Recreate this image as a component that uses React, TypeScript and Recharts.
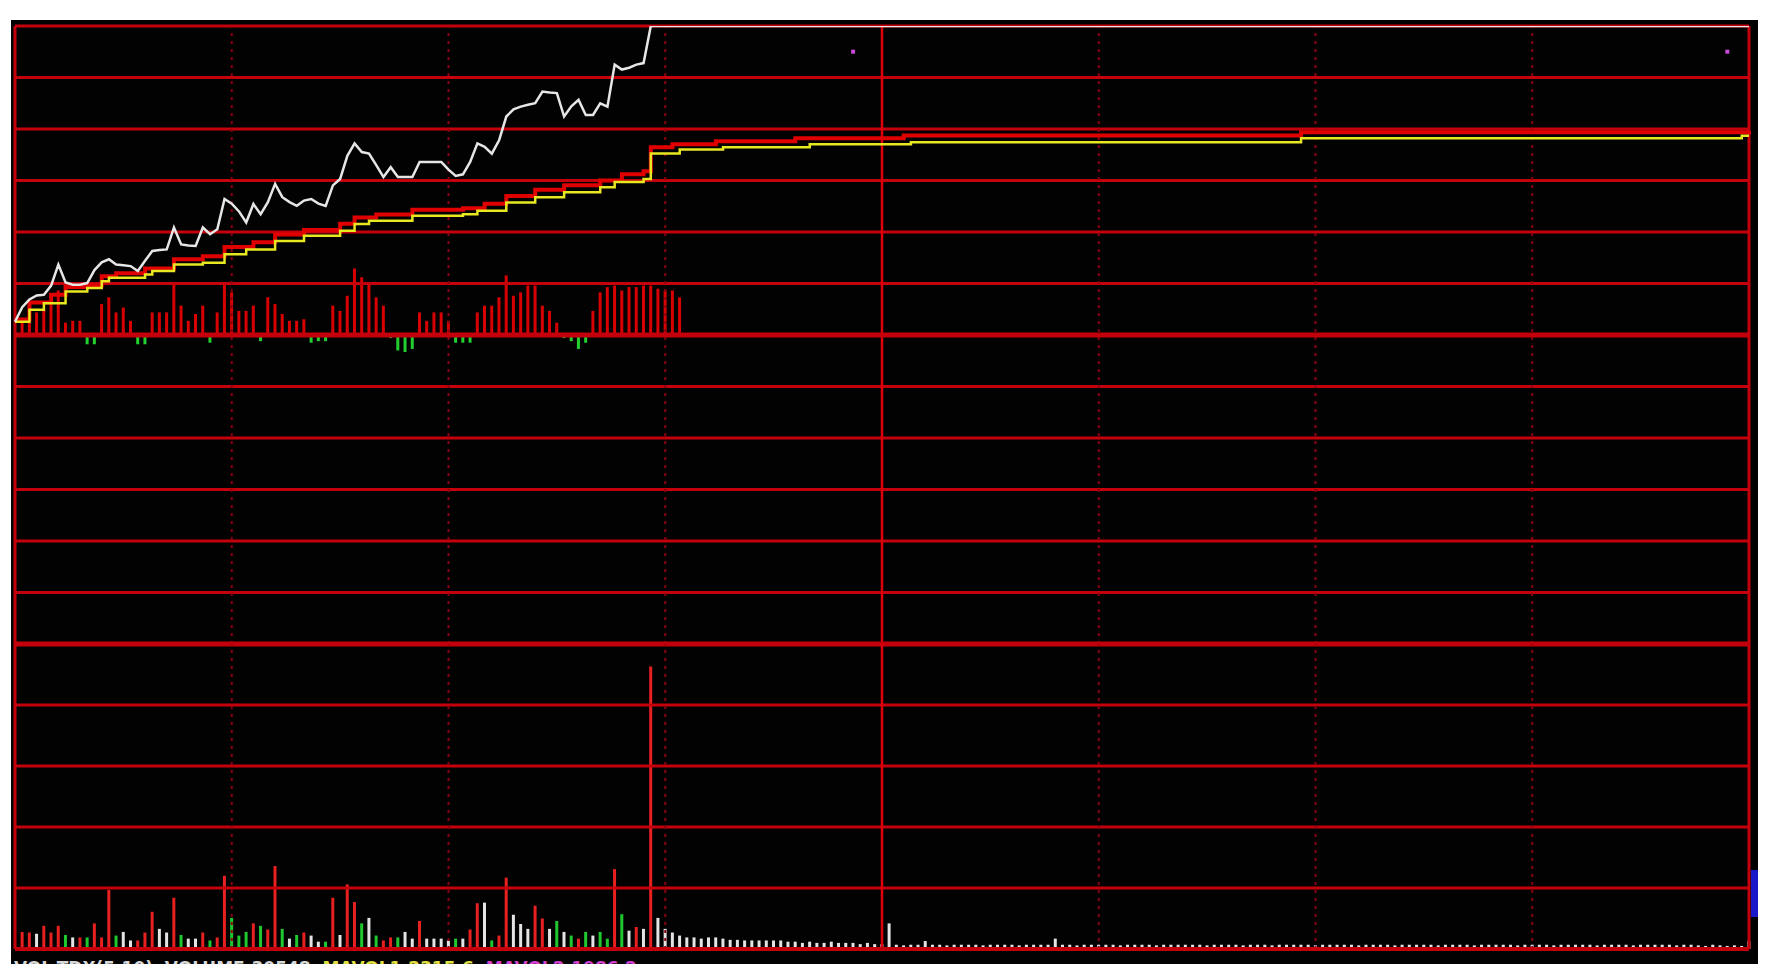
import React from "react"
import { ComposedChart, XAxis, YAxis, Line, Bar, Cell, ReferenceLine, Scatter } from "recharts"

// minute slots of the trading day (9:30-11:30, 13:00-15:00)
const minutes = Array.from({ length: 241 }, (_, i) => i)

// price change in % vs previous close, minute 0..88 (hits limit-up at 88)
const pricePct = [
  0.43, 0.9, 1.15, 1.28, 1.3, 1.6, 2.28, 1.7, 1.63, 1.63,
  1.68, 2.1, 2.35, 2.45, 2.28, 2.26, 2.23, 2.07, 2.4, 2.72,
  2.75, 2.77, 3.48, 2.93, 2.9, 2.88, 3.48, 3.26, 3.42, 4.4,
  4.25, 4.0, 3.64, 4.24, 3.91, 4.3, 4.89, 4.46, 4.3, 4.18,
  4.35, 4.4, 4.25, 4.18, 4.84, 5.05, 5.8, 6.2, 5.92, 5.87,
  5.5, 5.11, 5.43, 5.11, 5.11, 5.11, 5.6, 5.6, 5.6, 5.6,
  5.35, 5.15, 5.2, 5.6, 6.2, 6.09, 5.87, 6.3, 7.07, 7.3,
  7.39, 7.45, 7.5, 7.88, 7.85, 7.83, 7.07, 7.4, 7.61, 7.12,
  7.12, 7.5, 7.39, 8.75, 8.59, 8.65, 8.75, 8.8, 10.0,
]
const priceTail: [number, number][] = [[240, 10.0]]

// average price line (yellow)
const avgKnots: [number, number][] = [
  [0, 0.43], [2, 0.82], [4, 1.03], [7, 1.41], [10, 1.52], [12, 1.74], [13, 1.85],
  [18, 1.96], [19, 2.07], [22, 2.28], [26, 2.34], [29, 2.61], [32, 2.77], [36, 3.04],
  [40, 3.21], [45, 3.37], [47, 3.59], [49, 3.7], [55, 3.86], [62, 3.91], [64, 4.02],
  [68, 4.29], [72, 4.46], [76, 4.62], [81, 4.78], [83, 4.95], [87, 5.05], [88, 5.87],
  [92, 6.0], [98, 6.08], [110, 6.17], [124, 6.24], [178, 6.37], [239, 6.45], [240, 6.45],
]

// leading line (red), just above the average
const leadKnots: [number, number][] = [
  [0, 0.5], [2, 1.05], [5, 1.3], [7, 1.55], [10, 1.6], [12, 1.9], [14, 2.0],
  [18, 2.15], [22, 2.45], [26, 2.55], [29, 2.85], [33, 3.0], [36, 3.25], [40, 3.4],
  [45, 3.6], [47, 3.8], [50, 3.9], [55, 4.05], [62, 4.1], [65, 4.25], [68, 4.5],
  [72, 4.7], [76, 4.85], [81, 5.0], [84, 5.2], [87, 5.3], [88, 6.08], [91, 6.17],
  [97, 6.27], [108, 6.37], [123, 6.46], [178, 6.56], [240, 6.6],
]

// buy/sell force bars around the zero line, minute 0..92
const force = [
  0, 0.4, 0.4, 0.73, 0.84, 1.0, 1.44, 0.4, 0.46, 0.46,
  -0.3, -0.3, 1.0, 1.22, 0.73, 0.89, 0.46, -0.3, -0.3, 0.73,
  0.73, 0.73, 1.71, 0.95, 0.46, 0.68, 0.95, -0.25, 0.73, 1.66,
  1.38, 0.78, 0.78, 0.95, -0.2, 1.22, 1.0, 0.68, 0.46, 0.46,
  0.51, -0.25, -0.2, -0.2, 0.95, 0.78, 1.27, 2.15, 1.87, 1.66,
  1.22, 0.95, -0.1, -0.5, -0.55, -0.45, 0.73, 0.46, 0.73, 0.73,
  0.46, -0.25, -0.25, -0.25, 0.73, 0.95, 0.95, 1.22, 1.93, 1.27,
  1.38, 1.6, 1.6, 0.95, 0.78, 0.4, -0.1, -0.2, -0.45, -0.25,
  0.78, 1.38, 1.55, 1.6, 1.44, 1.55, 1.55, 1.6, 1.6, 1.5,
  1.44, 1.44, 1.22,
]

// volume per minute
const volume = [
  0, 28, 27, 25, 38, 27, 38, 23, 19, 19,
  19, 42, 19, 97, 22, 28, 14, 14, 27, 61,
  33, 27, 84, 23, 17, 17, 27, 14, 19, 120,
  51, 22, 28, 42, 38, 32, 136, 33, 17, 23,
  27, 22, 12, 12, 84, 23, 106, 77, 42, 51,
  22, 14, 19, 19, 28, 17, 46, 17, 17, 17,
  14, 17, 17, 32, 75, 76, 14, 22, 117, 56,
  41, 33, 71, 50, 33, 46, 28, 22, 17, 28,
  22, 28, 17, 131, 57, 30, 36, 33, 463, 51,
  33, 27, 22, 19, 19, 17, 19, 19, 17, 15,
  15, 14, 14, 14, 14, 14, 14, 12, 12, 10,
  12, 10, 10, 12, 10, 10, 10, 8, 10, 8,
  8, 42, 7, 6, 7, 7, 13, 7, 7, 6,
  7, 7, 7, 7, 6, 7, 7, 7, 7, 6,
  7, 7, 7, 7, 17, 7, 7, 6, 7, 7,
  7, 7, 7, 6, 7, 7, 7, 7, 6, 7,
  7, 7, 7, 7, 7, 6, 7, 7, 7, 7,
  6, 7, 7, 7, 6, 7, 7, 7, 7, 7,
  6, 7, 7, 7, 7, 7, 6, 7, 7, 7,
  7, 6, 7, 7, 7, 7, 7, 6, 7, 7,
  7, 7, 6, 7, 7, 7, 7, 7, 6, 7,
  7, 7, 7, 6, 7, 7, 7, 7, 7, 6,
  7, 7, 7, 7, 6, 7, 7, 7, 7, 7,
  6, 7, 7, 6, 5, 7, 6, 5, 6, 5,
  13,
]

// r = up minute, g = down minute, w = flat (after 88 all flat)
const volDir =
  "w" +
  "rrwrrrgwrg" + "rrrgwwrrrw" + "wrgwwrgrrg" + "ggrgrrgwgr" + "wwgrwrrgwg" +
  "rrgwwrwwww" + "gwrrwgrrww" + "wrrwgwgrgw" + "ggrgwrwr"

const markers = [
  { t: 116, mark: 9.17 },
  { t: 237, mark: 9.17 },
]

const priceTicks = [-10, -8.333, -6.667, -5, -3.333, -1.667, 1.667, 3.333, 5, 6.667, 8.333, 10]
const volTicks = [100, 200, 300, 400, 500]
const halfHourTicks = [30, 60, 90, 150, 180, 210]
const middayTick = 120

const footer = [
  { text: "VOL-TDX(5,10)  VOLUME:30548  ", color: "#d8d8d8" },
  { text: "MAVOL1:2315.6  ", color: "#e0e040" },
  { text: "MAVOL2:1986.2", color: "#d040d0" },
]

const GRID = "#c4000c"
const DOTTED = "#8a0010"
const volColor: Record<string, string> = { r: "#e82020", g: "#20c830", w: "#e4e4e4" }

const knotMap = (k: [number, number][]) => new Map(k.map(([t, v]) => [t, v]))
const avgMap = knotMap(avgKnots)
const leadMap = knotMap(leadKnots)
const tailMap = knotMap(priceTail)

const rows = minutes.map((t) => ({
  t,
  price: t < pricePct.length ? pricePct[t] : tailMap.get(t) ?? null,
  avg: avgMap.get(t) ?? null,
  lead: leadMap.get(t) ?? null,
  force: t < force.length ? force[t] : null,
  vol: volume[t],
  dir: volDir[t] ?? "w",
}))

const W = 1769
const H = 977
const LEFT = 15
const RIGHT = W - 1749
const TOP = 26
const MID = 644
const BOTTOM = 949

const verticals = () => [
  ...halfHourTicks.map((x) => (
    <ReferenceLine key={"d" + x} x={x} stroke={DOTTED} strokeWidth={2} strokeDasharray="3 5" />
  )),
  <ReferenceLine key="mid" x={middayTick} stroke="#e0000a" strokeWidth={2.5} />,
  <ReferenceLine key="l" x={0} stroke={GRID} strokeWidth={3} />,
  <ReferenceLine key="r" x={240} stroke={GRID} strokeWidth={3} />,
]

export default function App() {
  return (
    <div style={{ position: "absolute", left: 0, top: 0, width: W, height: H, background: "#fff", overflow: "hidden" }}>
      <div style={{ position: "absolute", left: 11, top: 20, width: 1747, height: 944, background: "#020202" }} />
      <div style={{ position: "absolute", left: 1751, top: 870, width: 7, height: 47, background: "#1818c8" }} />

      <div style={{ position: "absolute", left: 0, top: 0 }}>
        <ComposedChart width={W} height={H} data={rows} margin={{ top: TOP, right: RIGHT, left: LEFT, bottom: H - MID }}>
          <XAxis dataKey="t" type="number" domain={[0, 240]} hide />
          <YAxis domain={[-10, 10]} hide allowDataOverflow />
          {priceTicks.map((y) => (
            <ReferenceLine key={y} y={y} stroke={GRID} strokeWidth={3} />
          ))}
          {verticals()}
          <ReferenceLine y={0} stroke={GRID} strokeWidth={5} />
          <ReferenceLine y={-10} stroke={GRID} strokeWidth={5} />
          <Bar dataKey="force" barSize={3} isAnimationActive={false}>
            {rows.map((r) => (
              <Cell key={r.t} fill={(r.force ?? 0) < 0 ? "#22d030" : "#d80000"} />
            ))}
          </Bar>
          <Line type="stepAfter" dataKey="lead" stroke="#e00000" strokeWidth={4} dot={false} connectNulls isAnimationActive={false} />
          <Line type="stepAfter" dataKey="avg" stroke="#e8e820" strokeWidth={2.5} dot={false} connectNulls isAnimationActive={false} />
          <Line type="linear" dataKey="price" stroke="#e6e6e6" strokeWidth={2.5} dot={false} connectNulls isAnimationActive={false} />
          <Scatter data={markers} dataKey="mark" fill="#c040d0" shape={(p: any) => <rect x={p.cx - 2} y={p.cy - 2} width={4} height={4} fill="#c848d8" />} isAnimationActive={false} />
        </ComposedChart>
      </div>

      <div style={{ position: "absolute", left: 0, top: 0 }}>
        <ComposedChart width={W} height={H} data={rows} margin={{ top: MID, right: RIGHT, left: LEFT, bottom: H - BOTTOM }}>
          <XAxis dataKey="t" type="number" domain={[0, 240]} hide />
          <YAxis domain={[0, 500]} hide allowDataOverflow />
          {volTicks.map((y) => (
            <ReferenceLine key={y} y={y} stroke={GRID} strokeWidth={3} />
          ))}
          {verticals()}
          <Bar dataKey="vol" barSize={3} isAnimationActive={false}>
            {rows.map((r) => (
              <Cell key={r.t} fill={volColor[r.dir]} />
            ))}
          </Bar>
          <ReferenceLine y={0} stroke={GRID} strokeWidth={4} />
        </ComposedChart>
      </div>

      <div
        style={{
          position: "absolute",
          left: 14,
          top: 959,
          height: 5,
          width: 820,
          overflow: "hidden",
          whiteSpace: "pre",
          fontFamily: "'DejaVu Sans', sans-serif",
          fontWeight: "bold",
          fontSize: 17,
          lineHeight: "17px",
        }}
      >
        <div style={{ marginTop: 1 }}>
          {footer.map((f) => (
            <span key={f.text} style={{ color: f.color }}>
              {f.text}
            </span>
          ))}
        </div>
      </div>
    </div>
  )
}
